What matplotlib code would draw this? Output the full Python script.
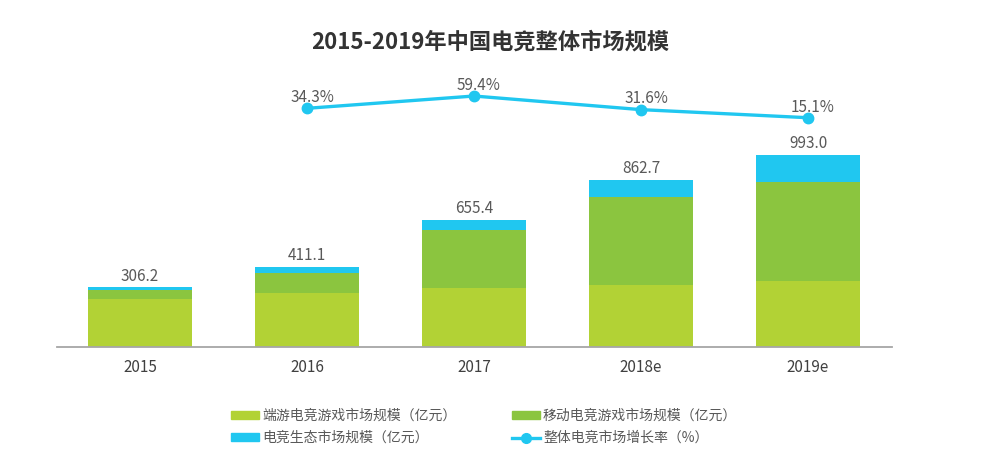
import matplotlib
matplotlib.use("Agg")
import matplotlib.pyplot as plt
from matplotlib.lines import Line2D
from matplotlib.patches import Patch

plt.rcParams['font.family'] = ['Noto Sans CJK SC', 'DejaVu Sans']

years = ['2015', '2016', '2017', '2018e', '2019e']
pc_esports = [245, 275, 303, 320, 342]       # 端游电竞游戏市场规模
mobile_esports = [49, 108, 302, 455, 511]    # 移动电竞游戏市场规模
ecosystem = [12, 28, 50, 88, 140]            # 电竞生态市场规模
totals = [306.2, 411.1, 655.4, 862.7, 993.0]
growth_years = ['2016', '2017', '2018e', '2019e']
growth = [34.3, 59.4, 31.6, 15.1]

c_light = '#B2D235'
c_green = '#8BC53F'
c_blue = '#20C7F0'
txt = '#595959'

fig = plt.figure(figsize=(9.81, 4.58), dpi=100)
ax = fig.add_axes([56.5 / 981, 1 - 346.5 / 458, 835 / 981, 286.5 / 458])

x = list(range(len(years)))
w = 0.628
ax.bar(x, pc_esports, w, color=c_light)
b2 = [a for a in pc_esports]
ax.bar(x, mobile_esports, w, bottom=b2, color=c_green)
b3 = [a + b for a, b in zip(pc_esports, mobile_esports)]
ax.bar(x, ecosystem, w, bottom=b3, color=c_blue)

for xi, t in zip(x, totals):
    ax.text(xi, t + 14, f'{t:.1f}', ha='center', va='bottom', fontsize=11, color=txt)

ax.set_xlim(-0.5, len(years) - 0.5)
ax.set_ylim(0, 1485)
ax.set_xticks(x)
ax.set_xticklabels(years, fontsize=11, color='#404040')
ax.tick_params(axis='x', length=0, pad=9)
ax.set_yticks([])
for s in ['top', 'left', 'right']:
    ax.spines[s].set_visible(False)
ax.spines['bottom'].set_color('#A6A6A6')
ax.spines['bottom'].set_linewidth(1.3)

ax2 = ax.twinx()
gx = [years.index(g) for g in growth_years]
ax2.plot(gx, growth, color=c_blue, lw=2.4, marker='o', ms=7.5)
for xi, g in zip(gx, growth):
    ax2.text(xi + 0.03, g + 4.5, f'{g:.1f}%', ha='center', va='bottom', fontsize=11, color=txt)
ax2.set_ylim(-451.8, 132.9)
ax2.set_yticks([])
for s in ['top', 'left', 'right', 'bottom']:
    ax2.spines[s].set_visible(False)

fig.text(490 / 981, 1 - 42 / 458, '2015-2019年中国电竞整体市场规模', ha='center', va='center',
         fontsize=16, fontweight='bold', color='#333333')

handles = [
    Patch(color=c_light),
    Patch(color=c_blue),
    Patch(color=c_green),
    Line2D([], [], color=c_blue, lw=2.4, marker='o', ms=7),
]
labels = ['端游电竞游戏市场规模（亿元）', '电竞生态市场规模（亿元）',
          '移动电竞游戏市场规模（亿元）', '整体电竞市场增长率（%）']
leg = fig.legend(handles, labels, ncol=2, loc='center', bbox_to_anchor=(484 / 981, 1 - 427 / 458),
                 frameon=False, fontsize=10, handlelength=2.0, handleheight=0.55,
                 handletextpad=0.25, columnspacing=4.0, labelspacing=0.6, labelcolor=txt,
                 borderpad=0.0)

fig.savefig('out.png', dpi=100)
